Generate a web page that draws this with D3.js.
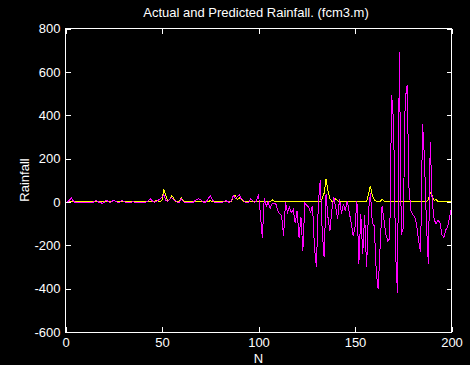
<!DOCTYPE html>
<html><head><meta charset="utf-8">
<script src="https://cdn.jsdelivr.net/npm/d3@7"></script>
<style>html,body{margin:0;padding:0;background:#000;} svg{display:block;}</style>
</head><body>
<script>
const titleText = "Actual and Predicted Rainfall. (fcm3.m)";
const xLabel = "N";
const yLabel = "Rainfall";
const xTicks = [0, 50, 100, 150, 200];
const yTicks = [-600, -400, -200, 0, 200, 400, 600, 800];

const actual = [
0,0,0,0,0,0,3,0,0,0,
0,4,0,0,0,0,0,0,0,0,
0,0,4,0,8,3,0,0,4,0,
0,0,0,0,0,0,0,0,3,0,
0,0,3,0,0,0,8,3,0,10,
57,30,5,10,30,18,3,0,0,20,
5,0,0,0,0,0,0,0,0,3,
0,0,0,0,8,0,0,0,0,0,
0,0,0,0,0,0,28,30,10,20,
12,5,0,0,0,0,0,0,0,3,
0,0,0,0,0,0,10,5,0,0,
0,0,0,0,0,0,0,0,0,0,
0,0,0,0,0,3,0,0,0,0,
0,0,15,40,105,50,14,3,0,14,
5,0,0,0,0,0,0,0,0,0,
0,0,0,0,0,0,35,75,30,10,
3,0,0,14,5,0,0,0,0,0,
0,0,0,3,0,0,0,0,0,0,
0,0,0,0,0,0,0,10,45,28,
8,10,3,0,0,0,0,0,0,0
];

const predicted = [
0,8,18,6,-3,-3,-2,-3,-3,-2,
-3,-2,-3,-3,2,8,0,-3,-6,-3,
10,2,-3,2,8,3,-3,-3,5,4,
-2,-3,-3,-3,2,-3,-3,-3,-2,-3,
-3,0,5,15,4,-2,3,8,14,22,
35,8,3,12,20,10,6,-2,-3,14,
3,-3,-3,-3,-5,-3,5,12,15,10,
3,-3,2,15,29,12,0,-3,-3,-3,
-3,2,6,2,-3,8,29,15,24,34,
15,10,0,-3,-3,14,6,-3,5,37,
-60,-164,20,-20,0,-30,-10,-5,-10,-40,
-55,-65,-156,0,-48,-25,-50,-35,-98,-40,
-164,-70,-225,-5,-15,-25,-48,-17,-210,-302,
-9,102,-133,-256,37,-71,-133,-40,22,-25,
-79,14,-56,-9,-40,6,-48,-94,-156,-117,
6,-285,-56,-240,-60,-300,-40,40,-100,-110,
-320,-403,-210,-20,-80,-150,-179,-170,492,370,
-230,-418,693,-150,-120,470,540,60,-40,-60,
-70,-110,-180,-233,361,200,-100,-287,276,0,
-80,-102,-85,-94,-150,-164,-130,-115,-70,-25
];

const W = 470, H = 365;
const svg = d3.select("body").append("svg").attr("width", W).attr("height", H)
  .style("background", "#000");
svg.append("rect").attr("width", W).attr("height", H).attr("fill", "#000");

const x = d3.scaleLinear().domain([0, 200]).range([65.5, 451.5]);
const y = d3.scaleLinear().domain([-600, 800]).range([332, 28.5]);
const font = "'Liberation Sans', Arial, Helvetica, sans-serif";

// data lines
const line = d3.line().x((d, i) => x(i + 1)).y(d => y(d));
const lines = svg.append("g").attr("shape-rendering", "crispEdges");
lines.append("path").datum(actual).attr("d", line)
  .attr("fill", "none").attr("stroke", "#ffff00").attr("stroke-width", 1);
lines.append("path").datum(predicted).attr("d", line)
  .attr("fill", "none").attr("stroke", "#ff00ff").attr("stroke-width", 1);

// axes box
svg.append("rect").attr("x", 65.5).attr("y", 28.5).attr("width", 386).attr("height", 303.5)
  .attr("fill", "none").attr("stroke", "#fff").attr("stroke-width", 1).attr("shape-rendering", "crispEdges");

function styleAxis(g) {
  g.select(".domain").remove();
  g.selectAll("line").attr("stroke", "#fff").attr("shape-rendering", "crispEdges");
  g.selectAll("text").attr("fill", "#fff").style("font-family", font).style("font-size", "13px");
}

svg.append("g").attr("transform", "translate(0,332)")
  .call(d3.axisBottom(x).tickValues(xTicks).tickSizeInner(-5).tickSizeOuter(0).tickPadding(6).tickFormat(d3.format("d")))
  .call(styleAxis);
svg.append("g").attr("transform", "translate(0,28.5)")
  .call(d3.axisTop(x).tickValues(xTicks).tickSizeInner(-5).tickSizeOuter(0).tickFormat(""))
  .call(styleAxis);
svg.append("g").attr("transform", "translate(65.5,0)")
  .call(d3.axisLeft(y).tickValues(yTicks).tickSizeInner(-5).tickSizeOuter(0).tickPadding(5).tickFormat(d3.format("d")))
  .call(styleAxis);
svg.append("g").attr("transform", "translate(451.5,0)")
  .call(d3.axisRight(y).tickValues(yTicks).tickSizeInner(-5).tickSizeOuter(0).tickFormat(""))
  .call(styleAxis);

svg.selectAll("text").filter(function(){ return this.textContent.startsWith("−"); })
  .text(function(){ return this.textContent.replace("−", "-"); });

svg.append("text").attr("x", 256).attr("y", 16.5).attr("text-anchor", "middle")
  .attr("fill", "#fff").style("font-family", font).style("font-size", "13px").text(titleText);
svg.append("text").attr("x", 258.5).attr("y", 363).attr("text-anchor", "middle")
  .attr("fill", "#fff").style("font-family", font).style("font-size", "13px").text(xLabel);
svg.append("text").attr("transform", "translate(29,180) rotate(-90)").attr("text-anchor", "middle")
  .attr("fill", "#fff").style("font-family", font).style("font-size", "13px").text(yLabel);
</script>
</body></html>
